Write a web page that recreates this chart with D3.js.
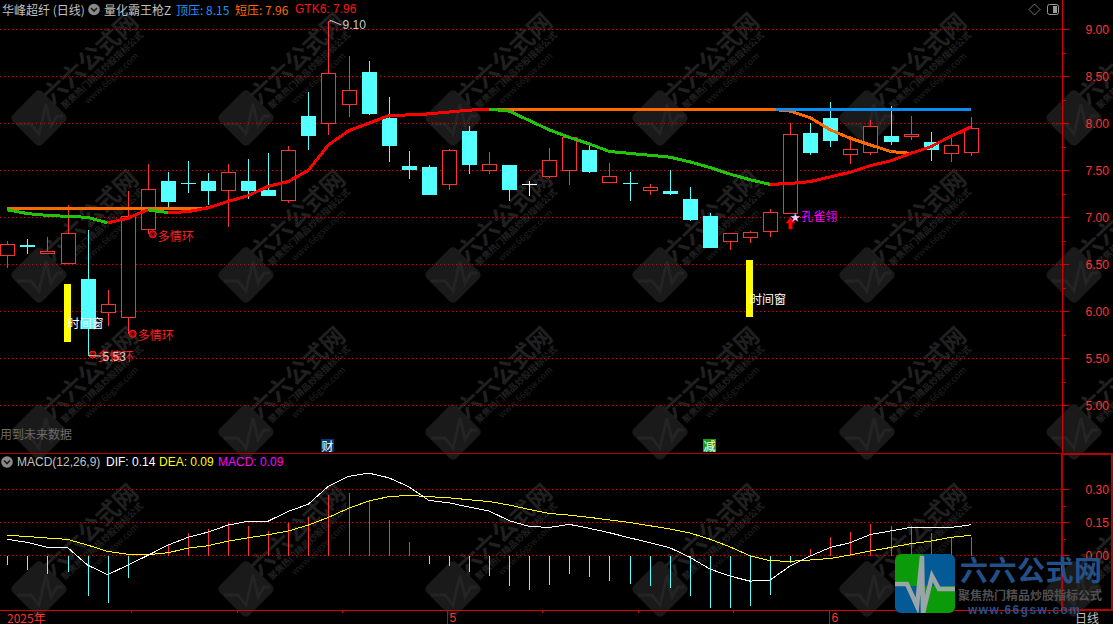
<!DOCTYPE html>
<html><head><meta charset="utf-8">
<script src="https://cdn.jsdelivr.net/npm/d3@7/dist/d3.min.js"></script>
<style>html,body{margin:0;padding:0;background:#000;overflow:hidden}svg{display:block}</style>
</head><body><div id="chart"></div>
<script>
const opens  = [6.60,6.71,6.62,6.51,6.34,5.99,5.94,6.88,7.39,7.37,7.39,7.29,7.39,7.29,7.18,8.08,8.00,8.21,8.55,8.06,7.55,7.54,7.35,7.92,7.50,7.56,7.35,7.44,7.50,7.72,7.38,7.37,7.29,7.28,7.19,7.01,6.75,6.79,6.85,7.05,7.90,8.06,7.67,7.69,7.87,7.87,7.80,7.68,7.69];
const closes = [6.72,6.69,6.64,6.83,5.82,6.08,7.01,7.30,7.17,7.36,7.29,7.48,7.29,7.24,7.72,7.88,8.53,8.35,8.11,7.77,7.51,7.25,7.72,7.57,7.57,7.30,7.35,7.61,7.85,7.49,7.44,7.36,7.32,7.26,6.98,6.68,6.83,6.84,7.06,7.89,7.69,7.82,7.73,7.97,7.81,7.89,7.73,7.77,7.95];
const highs  = [6.76,6.78,6.80,7.14,6.88,6.24,7.29,7.58,7.49,7.61,7.48,7.58,7.63,7.69,7.77,8.34,9.10,8.73,8.67,8.29,7.72,7.57,7.74,7.98,7.71,7.57,7.40,7.75,7.87,7.79,7.59,7.49,7.36,7.51,7.33,7.06,6.83,6.87,7.10,8.01,8.01,8.24,7.88,8.05,8.20,8.09,7.92,7.90,8.08];
const lows   = [6.47,6.62,6.62,6.51,5.53,5.85,5.77,6.83,7.12,7.27,7.14,6.91,7.21,7.24,7.16,7.73,7.89,8.08,8.10,7.60,7.42,7.25,7.30,7.47,7.47,7.18,7.24,7.43,7.35,7.48,7.38,7.18,7.25,7.25,6.97,6.68,6.66,6.74,6.80,7.05,7.67,7.76,7.58,7.67,7.78,7.83,7.61,7.60,7.66];
const gtk6   = [7.08,7.04,7.02,7.01,7.00,6.94,6.99,7.08,7.05,7.06,7.10,7.17,7.23,7.33,7.38,7.50,7.77,7.92,8.00,8.08,8.09,8.10,8.12,8.14,8.15,8.13,8.03,7.93,7.85,7.78,7.70,7.68,7.66,7.64,7.59,7.53,7.46,7.40,7.35,7.36,7.38,7.43,7.48,7.55,7.60,7.68,7.75,7.86,7.96];
const shortP = [7.09,7.09,7.09,7.09,7.09,7.09,7.09,7.09,7.09,7.09,7.10,7.17,7.23,7.33,7.38,7.50,7.77,7.92,8.00,8.08,8.09,8.10,8.12,8.14,8.15,8.15,8.15,8.15,8.15,8.15,8.15,8.15,8.15,8.15,8.15,8.15,8.15,8.15,8.15,8.13,8.06,7.93,7.84,7.77,7.70,7.68,7.75,7.86,7.96];
const topPressure = 8.15, topStartIndex = 38.3, lastIndex = 48;
const macdBars = [-.04,-.06,-.08,-.07,-.18,-.21,-.10,0,.05,.105,.125,.155,.14,.115,.15,.18,.28,.29,.25,.165,.065,-.035,-.045,-.07,-.09,-.135,-.155,-.13,-.08,-.095,-.11,-.125,-.135,-.145,-.18,-.235,-.235,-.225,-.175,-.03,.033,.088,.11,.148,.138,.138,.106,.088,.09];
const dif = [.073,.059,.036,.036,-.044,-.088,-.044,0,.047,.082,.106,.138,.155,.156,.2,.233,.315,.359,.374,.353,.312,.25,.239,.22,.202,.158,.132,.127,.141,.123,.103,.08,.058,.035,-.008,-.062,-.094,-.117,-.112,-.048,-.003,.036,.058,.095,.111,.127,.127,.127,.139];
const dea = [.091,.086,.079,.073,.047,.018,.005,.003,.012,.033,.044,.065,.08,.094,.111,.138,.173,.214,.247,.267,.273,.267,.262,.253,.245,.229,.209,.191,.183,.173,.161,.15,.135,.12,.102,.074,.039,-.002,-.024,-.027,-.021,-.014,.002,.02,.036,.053,.065,.082,.091];
const priceTicks = [9,8.5,8,7.5,7,6.5,6,5.5,5];
const macdTicks = [.3,.15,0];
const monthLabels = [{pos:21.91,text:"5"},{pos:40.94,text:"6"}];
const weekTicks = [6.16,11.45,16.68,26.64,31.43,36.17];
const timeWindows = [{i:3,top:6.29,bottom:5.67},{i:37,top:6.55,bottom:5.94}];
const ringLabels = [{i:7,price:6.82},{i:6,price:5.76},{i:4,price:5.54}];

const W=1113,H=624, axisX=1062.5;
const RED="#ff3232", CYAN="#54ffff", GRID="#e00000", FRAME="#b80000";
const CJK='"Noto Sans CJK SC","Liberation Sans",sans-serif', LAT='"Liberation Sans","Noto Sans CJK SC",sans-serif';

const svg=d3.select("#chart").append("svg").attr("width",W).attr("height",H).style("background","#000");
const x=d3.scaleLinear().domain([0,48]).range([7.3,970.8]);
const y=d3.scaleLinear().domain([9,5]).range([29.3,405.3]);
const ym=d3.scaleLinear().domain([0,.3]).range([555.4,489.4]);
const px=i=>Math.round(x(i))+.5;
const py=v=>Math.round(y(v))+.5;
const pm=v=>Math.round(ym(v))+.5;

function text(g,s,tx,ty,fill,size,opt={}){
  return g.append("text").attr("x",tx).attr("y",ty).attr("fill",fill).attr("font-size",size)
    .attr("font-family",opt.font||CJK).attr("dominant-baseline","central")
    .attr("text-anchor",opt.anchor||"start").attr("font-weight",opt.weight||"normal").text(s);
}

/* watermark */
const wm=svg.append("g");
d3.range(6).forEach(c=>d3.range(4).forEach(r=>{
  const cx=39+207*c, cy=118+157*r;
  const t=wm.append("g").attr("transform",`translate(${cx},${cy})`);
  t.append("rect").attr("x",-21).attr("y",-21).attr("width",42).attr("height",42).attr("rx",5)
    .attr("transform","rotate(45)").attr("fill","#1a1a1a");
  t.append("path").attr("d","M-22 6 L-8 6 L0 16 L7 -14 L12 8 L18 -2 L24 -2").attr("fill","none").attr("stroke","#242424").attr("stroke-width",3);
  [[50,-61,"六六公式网",24,"bold"],[63,-48,"聚焦热门精品炒股指标公式",9,"bold"],[72,-40,"www.66gsw.com",9,"normal"]].forEach(d=>{
    t.append("text").attr("transform",`translate(${d[0]},${d[1]}) rotate(-43)`).attr("text-anchor","middle")
      .attr("dominant-baseline","central").attr("font-family",CJK).attr("font-size",d[3]).attr("font-weight",d[4])
      .attr("fill","#202020").text(d[2]);
  });
}));

/* grid */
const grid=svg.append("g").attr("shape-rendering","crispEdges");
grid.selectAll(".p").data(priceTicks).join("line").attr("x1",0).attr("x2",axisX).attr("y1",py).attr("y2",py)
  .attr("stroke",GRID).attr("stroke-dasharray","1 3");
grid.selectAll(".m").data(macdTicks).join("line").attr("x1",0).attr("x2",axisX).attr("y1",pm).attr("y2",pm)
  .attr("stroke",GRID).attr("stroke-dasharray","1 3");

/* frames */
const fr=svg.append("g").attr("shape-rendering","crispEdges");
fr.append("line").attr("x1",axisX).attr("x2",axisX).attr("y1",0).attr("y2",454).attr("stroke","#dd0000");
fr.append("line").attr("x1",0).attr("x2",1062).attr("y1",453.5).attr("y2",453.5).attr("stroke",FRAME);
fr.append("line").attr("x1",0).attr("x2",1062).attr("y1",610.5).attr("y2",610.5).attr("stroke","#dd0000");
fr.append("rect").attr("x",1062).attr("y",454).attr("width",50).attr("height",156).attr("fill","none").attr("stroke",FRAME).attr("stroke-width",2);

/* right axes through d3 */
const axisG=svg.append("g");
const minor=d3.range(5.25,9.25,.5);
function rightAxis(scale,ticks,minors){
  const g=axisG.append("g").attr("transform",`translate(${axisX},0)`);
  g.call(d3.axisRight(scale).tickValues(ticks).tickSize(6).tickPadding(17).tickFormat(d3.format(".2f")));
  g.select(".domain").remove();
  g.selectAll("line").attr("stroke","#dd0000").attr("shape-rendering","crispEdges");
  g.selectAll("text").attr("fill",RED).attr("font-size",12).attr("font-family",LAT);
  g.selectAll(".minor").data(minors).join("line").attr("class","minor").attr("x1",0).attr("x2",3)
    .attr("y1",d=>Math.round(scale(d))+.5).attr("y2",d=>Math.round(scale(d))+.5).attr("stroke","#dd0000").attr("shape-rendering","crispEdges");
}
rightAxis(y,priceTicks,minor);
rightAxis(ym,macdTicks,[.225,.075]);

/* candles */
const idx=d3.range(opens.length);
const cg=svg.append("g").attr("shape-rendering","crispEdges");
const colorOf=i=>closes[i]>opens[i]?RED:closes[i]<opens[i]?CYAN:"#ffffff";
cg.selectAll("line.w").data(idx).join("line").attr("class","w").attr("x1",px).attr("x2",px)
  .attr("y1",i=>py(highs[i])).attr("y2",i=>py(lows[i])).attr("stroke",colorOf);
cg.selectAll("g.b").data(idx).join(enter=>enter.append("g").attr("class","b")).each(function(i){
  const s=d3.select(this),c=px(i),t=py(Math.max(opens[i],closes[i])),b=py(Math.min(opens[i],closes[i])),col=colorOf(i);
  if(b-t<2){ s.append("rect").attr("x",c-7.5).attr("y",t-.5).attr("width",15).attr("height",Math.max(1,b-t+1)).attr("fill",col); }
  else if(col===RED){ s.append("rect").attr("x",c-7).attr("y",t).attr("width",14).attr("height",b-t).attr("fill","#000").attr("stroke",col); }
  else { s.append("rect").attr("x",c-7.5).attr("y",t-.5).attr("width",15).attr("height",b-t+1).attr("fill",col); }
});

/* time-window bars */
svg.append("g").selectAll("rect").data(timeWindows).join("rect").attr("shape-rendering","crispEdges")
  .attr("x",d=>x(d.i)-3.5).attr("width",7).attr("y",d=>y(d.top)).attr("height",d=>y(d.bottom)-y(d.top)).attr("fill","#ffff00");

/* price lines */
const lineG=svg.append("g").attr("fill","none").attr("stroke-width",3).attr("shape-rendering","crispEdges");
const ln=d3.line().x(d=>x(d[0])).y(d=>y(d[1]));
lineG.append("path").attr("d",ln(shortP.map((v,i)=>[i,v]))).attr("stroke","#ff6a00");
d3.pairs(idx).forEach(([a,b])=>{
  lineG.append("path").attr("d",ln([[a,gtk6[a]],[b,gtk6[b]]])).attr("stroke",gtk6[b]>=gtk6[a]?"#ff0000":"#22c40a");
});
lineG.append("path").attr("d",ln([[topStartIndex,topPressure],[lastIndex,topPressure]])).attr("stroke","#0a8cf0");

/* annotations */
const an=svg.append("g");
ringLabels.forEach(d=>{
  an.append("circle").attr("cx",x(d.i)+5).attr("cy",y(d.price)).attr("r",3.5).attr("fill","#b00000").attr("stroke","#ff2020").attr("stroke-width",1);
  an.append("circle").attr("cx",x(d.i)+5).attr("cy",y(d.price)).attr("r",1).attr("fill","#000");
  text(an,"多情环",x(d.i)+10,y(d.price)+1,"#ff2020",12);
});
text(an,"9.10",x(16)+14,25,"#c8c8c8",12,{font:LAT});
an.append("path").attr("d",`M${x(16)+1} 22 L${x(16)+3} 20 M${x(16)+1} 20 L${x(16)+13} 25`).attr("stroke","#c8c8c8").attr("fill","none");
text(an,"5.53",x(4)+15,357,"#c8c8c8",12,{font:LAT});
an.append("line").attr("x1",x(4)+1).attr("x2",x(4)+13).attr("y1",355.5).attr("y2",356).attr("stroke","#c8c8c8");
timeWindows.forEach(d=>text(an,"时间窗",x(d.i),y((d.top+d.bottom)/2)+(d.i===3?9:10),"#ffffff",12));
/* red arrow and star */
const ax=px(39);
an.append("path").attr("d",`M${ax} ${y(7)} l5 6 h-3 v6 h-4 v-6 h-3 z`).attr("fill","#ff0000");
text(an,"★",x(39)+0,216,"#f5c8ff",10);
text(an,"孔雀翎",x(39)+11,215.5,"#ff00ff",12);
/* tags */
an.append("rect").attr("x",321).attr("y",439).attr("width",13).attr("height",13).attr("fill","#003a70");
text(an,"财",327.5,445.5,"#ffffff",12,{anchor:"middle"});
an.append("rect").attr("x",703).attr("y",439).attr("width",13).attr("height",13).attr("fill","#1c9c10");
text(an,"减",709.5,445.5,"#ffffff",12,{anchor:"middle"});

/* MACD */
const mg=svg.append("g").attr("shape-rendering","crispEdges");
mg.selectAll("line").data(idx).join("line").attr("x1",px).attr("x2",px).attr("y1",pm(0)).attr("y2",i=>pm(macdBars[i]))
  .attr("stroke",i=>macdBars[i]>=0?RED:CYAN);
const lm=d3.line().x((d,i)=>x(i)).y(d=>ym(d));
const mlines=svg.append("g").attr("fill","none").attr("shape-rendering","crispEdges").attr("stroke-width",1);
mlines.append("path").attr("d",lm(dea)).attr("stroke","#ffff00");
mlines.append("path").attr("d",lm(dif)).attr("stroke","#ffffff");

/* titles */
const tg=svg.append("g");
function chevron(cx,cy){
  tg.append("circle").attr("cx",cx).attr("cy",cy).attr("r",5.8).attr("fill","#8a8a8a");
  tg.append("path").attr("d",`M${cx-3} ${cy-1.5} L${cx} ${cy+1.5} L${cx+3} ${cy-1.5}`).attr("stroke","#1a1a1a").attr("stroke-width",1.6).attr("fill","none");
}
text(tg,"华峰超纤 (日线)",2,9,"#c0c0c0",12);
chevron(94,9.5);
text(tg,"量化霸王枪Z",104,9,"#c0c0c0",12);
text(tg,"顶压: 8.15",176,9,"#1e90ff",12);
text(tg,"短压: 7.96",235,9,"#ff6a00",12);
text(tg,"GTK6: 7.96",295,9,"#ff1414",12,{font:LAT});
chevron(7,462);
text(tg,"MACD(12,26,9)",17,462,"#c0c0c0",12,{font:LAT});
text(tg,"DIF: 0.14",106,462,"#ffffff",12,{font:LAT});
text(tg,"DEA: 0.09",159,462,"#ffff00",12,{font:LAT});
text(tg,"MACD: 0.09",218,462,"#ff00ff",12,{font:LAT});
text(tg,"用到未来数据",0,433,"#6a6a6a",12);
/* top-right icons */
tg.append("path").attr("d","M1034.5 4 L1040 9.5 L1034.5 15 L1029 9.5 Z").attr("fill","none").attr("stroke","#777");
tg.append("rect").attr("x",1047.5).attr("y",4.5).attr("width",11).attr("height",10).attr("rx",2).attr("fill","none").attr("stroke","#999");
tg.append("rect").attr("x",1053).attr("y",6).attr("width",4).attr("height",7).attr("fill","#999");

/* time axis */
const ta=svg.append("g").attr("shape-rendering","crispEdges");
ta.selectAll(".wk").data(weekTicks).join("line").attr("x1",d=>Math.round(x(d))+.5).attr("x2",d=>Math.round(x(d))+.5).attr("y1",611).attr("y2",613).attr("stroke","#dd0000");
monthLabels.forEach(d=>{
  const xx=Math.round(x(d.pos))+.5;
  ta.append("line").attr("x1",xx).attr("x2",xx).attr("y1",611).attr("y2",624).attr("stroke","#dd0000");
  text(ta,d.text,xx+2,618,RED,12,{font:LAT});
});
text(ta,"2025年",7,617,RED,12);
text(ta,"日线",1075,617,"#c0c0c0",12);

/* bottom-right logo */
const lg=svg.append("g");
const clip=svg.append("defs").append("clipPath").attr("id","lc");
clip.append("rect").attr("x",895).attr("y",554).attr("width",60).attr("height",59).attr("rx",6);
const q=lg.append("g").attr("clip-path","url(#lc)");
[[895,554,28,32,"#0a9a0a"],[923,554,32,32,"#045a96"],[895,586,28,27,"#045a96"],[923,586,32,27,"#0a9a0a"]].forEach(d=>
  q.append("rect").attr("x",d[0]).attr("y",d[1]).attr("width",d[2]).attr("height",d[3]).attr("fill",d[4]));
q.append("path").attr("d","M895 584 H907 L917 606 L922 556 L923 613 L932 576 L939 589 H955").attr("fill","none").attr("stroke","#9aa6a6").attr("stroke-width",4.5);
text(lg,"六六公式网",960,569,"#24508a",28,{weight:"bold"}).attr("textLength",142).attr("lengthAdjust","spacing");
text(lg,"聚焦热门精品炒股指标公式",958,594,"#505050",12,{weight:"bold"});
text(lg,"www.66gsw.com",968,610,"#24508a",12,{weight:"bold",font:LAT}).attr("textLength",112).attr("lengthAdjust","spacing");
</script></body></html>
